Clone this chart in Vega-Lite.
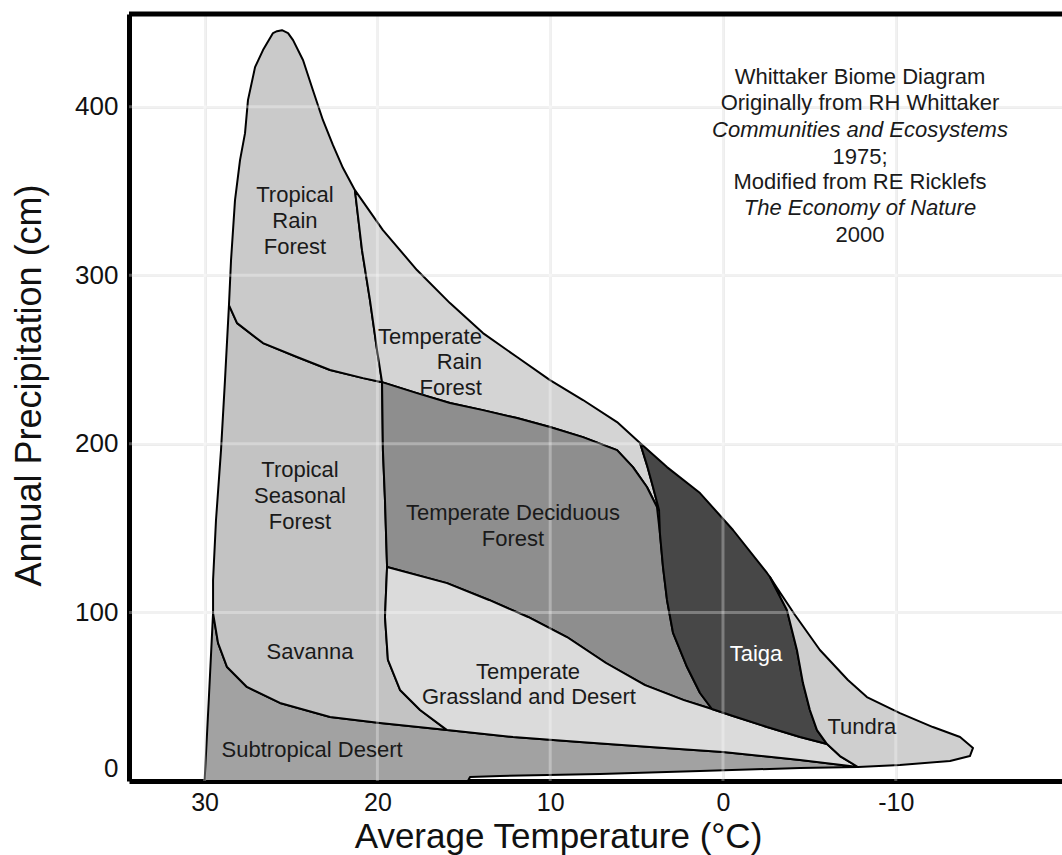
{
  "$schema": "https://vega.github.io/schema/vega-lite/v6.json",
  "width": 933,
  "height": 767,
  "autosize": "none",
  "padding": {"left": 129, "top": 14, "right": 0, "bottom": 74},
  "background": "white",
  "config": {
    "view": {"stroke": null},
    "axis": {
      "labelFont": "Liberation Sans",
      "titleFont": "Liberation Sans",
      "labelColor": "#111111",
      "titleColor": "#111111",
      "titleFontWeight": "normal",
      "domainColor": "black",
      "domainWidth": 5,
      "gridColor": "#ebebeb",
      "gridWidth": 3,
      "ticks": false
    },
    "text": {"font": "Liberation Sans", "fontSize": 22, "color": "#1a1a1a"}
  },
  "datasets": {
    "polys": [
      {"b":"desert","i":0,"T":30.0,"P":0},
      {"b":"desert","i":1,"T":29.75,"P":49.8},
      {"b":"desert","i":2,"T":29.51,"P":99.6},
      {"b":"desert","i":3,"T":29.22,"P":81.8},
      {"b":"desert","i":4,"T":28.70,"P":67.6},
      {"b":"desert","i":5,"T":27.55,"P":55.8},
      {"b":"desert","i":6,"T":25.64,"P":46.3},
      {"b":"desert","i":7,"T":22.74,"P":38.0},
      {"b":"desert","i":8,"T":19.85,"P":34.4},
      {"b":"desert","i":9,"T":15.97,"P":30.2},
      {"b":"desert","i":10,"T":12.15,"P":26.1},
      {"b":"desert","i":11,"T":8.28,"P":23.1},
      {"b":"desert","i":12,"T":4.22,"P":20.2},
      {"b":"desert","i":13,"T":0.0,"P":17.2},
      {"b":"desert","i":14,"T":-4.46,"P":12.5},
      {"b":"desert","i":15,"T":-7.81,"P":8.3},
      {"b":"desert","i":16,"T":-4.46,"P":7.7},
      {"b":"desert","i":17,"T":1.33,"P":5.9},
      {"b":"desert","i":18,"T":7.12,"P":4.2},
      {"b":"desert","i":19,"T":12.90,"P":3.0},
      {"b":"desert","i":20,"T":14.64,"P":2.4},
      {"b":"desert","i":21,"T":14.76,"P":0},
      {"b":"desert","i":22,"T":30.0,"P":0},

      {"b":"seasonal","i":0,"T":29.51,"P":99.6},
      {"b":"seasonal","i":1,"T":29.51,"P":119.2},
      {"b":"seasonal","i":2,"T":29.34,"P":154.8},
      {"b":"seasonal","i":3,"T":29.05,"P":196.3},
      {"b":"seasonal","i":4,"T":28.82,"P":237.8},
      {"b":"seasonal","i":5,"T":28.59,"P":282.3},
      {"b":"seasonal","i":6,"T":28.12,"P":271.6},
      {"b":"seasonal","i":7,"T":26.62,"P":259.8},
      {"b":"seasonal","i":8,"T":24.65,"P":251.5},
      {"b":"seasonal","i":9,"T":22.74,"P":243.8},
      {"b":"seasonal","i":10,"T":20.83,"P":239.0},
      {"b":"seasonal","i":11,"T":19.73,"P":236.6},
      {"b":"seasonal","i":12,"T":19.68,"P":196.3},
      {"b":"seasonal","i":13,"T":19.56,"P":166.7},
      {"b":"seasonal","i":14,"T":19.44,"P":126.9},
      {"b":"seasonal","i":15,"T":19.56,"P":97.3},
      {"b":"seasonal","i":16,"T":19.39,"P":71.8},
      {"b":"seasonal","i":17,"T":18.69,"P":54.0},
      {"b":"seasonal","i":18,"T":17.53,"P":42.1},
      {"b":"seasonal","i":19,"T":15.97,"P":30.2},
      {"b":"seasonal","i":20,"T":19.85,"P":34.4},
      {"b":"seasonal","i":21,"T":22.74,"P":38.0},
      {"b":"seasonal","i":22,"T":25.64,"P":46.3},
      {"b":"seasonal","i":23,"T":27.55,"P":55.8},
      {"b":"seasonal","i":24,"T":28.70,"P":67.6},
      {"b":"seasonal","i":25,"T":29.22,"P":81.8},
      {"b":"seasonal","i":26,"T":29.51,"P":99.6},

      {"b":"trf","i":0,"T":28.59,"P":282.3},
      {"b":"trf","i":1,"T":28.47,"P":309.0},
      {"b":"trf","i":2,"T":28.24,"P":344.6},
      {"b":"trf","i":3,"T":27.95,"P":368.3},
      {"b":"trf","i":4,"T":27.66,"P":384.3},
      {"b":"trf","i":5,"T":27.49,"P":403.9},
      {"b":"trf","i":6,"T":27.08,"P":423.5},
      {"b":"trf","i":7,"T":26.62,"P":433.6},
      {"b":"trf","i":8,"T":26.04,"P":443.7},
      {"b":"trf","i":9,"T":25.81,"P":444.8},
      {"b":"trf","i":10,"T":25.52,"P":445.4},
      {"b":"trf","i":11,"T":25.17,"P":443.7},
      {"b":"trf","i":12,"T":24.88,"P":439.5},
      {"b":"trf","i":13,"T":24.30,"P":427.6},
      {"b":"trf","i":14,"T":23.73,"P":409.8},
      {"b":"trf","i":15,"T":23.15,"P":392.0},
      {"b":"trf","i":16,"T":22.57,"P":377.2},
      {"b":"trf","i":17,"T":21.99,"P":363.6},
      {"b":"trf","i":18,"T":21.30,"P":350.5},
      {"b":"trf","i":19,"T":20.89,"P":314.9},
      {"b":"trf","i":20,"T":20.43,"P":285.3},
      {"b":"trf","i":21,"T":20.02,"P":255.6},
      {"b":"trf","i":22,"T":19.73,"P":236.6},
      {"b":"trf","i":23,"T":20.83,"P":239.0},
      {"b":"trf","i":24,"T":22.74,"P":243.8},
      {"b":"trf","i":25,"T":24.65,"P":251.5},
      {"b":"trf","i":26,"T":26.62,"P":259.8},
      {"b":"trf","i":27,"T":28.12,"P":271.6},
      {"b":"trf","i":28,"T":28.59,"P":282.3},

      {"b":"temprf","i":0,"T":21.30,"P":350.5},
      {"b":"temprf","i":1,"T":19.68,"P":326.8},
      {"b":"temprf","i":2,"T":17.71,"P":303.1},
      {"b":"temprf","i":3,"T":15.80,"P":283.5},
      {"b":"temprf","i":4,"T":13.89,"P":265.7},
      {"b":"temprf","i":5,"T":11.92,"P":251.5},
      {"b":"temprf","i":6,"T":10.01,"P":237.8},
      {"b":"temprf","i":7,"T":8.10,"P":226.0},
      {"b":"temprf","i":8,"T":6.13,"P":212.9},
      {"b":"temprf","i":9,"T":4.80,"P":200.5},
      {"b":"temprf","i":10,"T":4.40,"P":187.4},
      {"b":"temprf","i":11,"T":4.05,"P":174.4},
      {"b":"temprf","i":12,"T":3.70,"P":160.7},
      {"b":"temprf","i":13,"T":3.82,"P":162.5},
      {"b":"temprf","i":14,"T":4.40,"P":174.4},
      {"b":"temprf","i":15,"T":5.21,"P":186.2},
      {"b":"temprf","i":16,"T":6.13,"P":196.3},
      {"b":"temprf","i":17,"T":8.10,"P":204.0},
      {"b":"temprf","i":18,"T":10.01,"P":210.0},
      {"b":"temprf","i":19,"T":11.92,"P":215.3},
      {"b":"temprf","i":20,"T":13.89,"P":220.0},
      {"b":"temprf","i":21,"T":15.80,"P":224.2},
      {"b":"temprf","i":22,"T":17.71,"P":230.1},
      {"b":"temprf","i":23,"T":19.73,"P":236.6},
      {"b":"temprf","i":24,"T":20.02,"P":255.6},
      {"b":"temprf","i":25,"T":20.43,"P":285.3},
      {"b":"temprf","i":26,"T":20.89,"P":314.9},
      {"b":"temprf","i":27,"T":21.30,"P":350.5},

      {"b":"decid","i":0,"T":19.73,"P":236.6},
      {"b":"decid","i":1,"T":17.71,"P":230.1},
      {"b":"decid","i":2,"T":15.80,"P":224.2},
      {"b":"decid","i":3,"T":13.89,"P":220.0},
      {"b":"decid","i":4,"T":11.92,"P":215.3},
      {"b":"decid","i":5,"T":10.01,"P":210.0},
      {"b":"decid","i":6,"T":8.10,"P":204.0},
      {"b":"decid","i":7,"T":6.13,"P":196.3},
      {"b":"decid","i":8,"T":5.21,"P":186.2},
      {"b":"decid","i":9,"T":4.40,"P":174.4},
      {"b":"decid","i":10,"T":3.82,"P":162.5},
      {"b":"decid","i":11,"T":3.65,"P":147.1},
      {"b":"decid","i":12,"T":3.47,"P":126.9},
      {"b":"decid","i":13,"T":3.24,"P":107.4},
      {"b":"decid","i":14,"T":2.89,"P":87.8},
      {"b":"decid","i":15,"T":2.08,"P":67.6},
      {"b":"decid","i":16,"T":1.33,"P":52.2},
      {"b":"decid","i":17,"T":0.64,"P":42.7},
      {"b":"decid","i":18,"T":2.26,"P":48.0},
      {"b":"decid","i":19,"T":4.51,"P":56.9},
      {"b":"decid","i":20,"T":6.77,"P":70.0},
      {"b":"decid","i":21,"T":9.03,"P":85.4},
      {"b":"decid","i":22,"T":11.28,"P":97.3},
      {"b":"decid","i":23,"T":13.54,"P":107.4},
      {"b":"decid","i":24,"T":15.97,"P":117.4},
      {"b":"decid","i":25,"T":19.44,"P":126.9},
      {"b":"decid","i":26,"T":19.56,"P":166.7},
      {"b":"decid","i":27,"T":19.68,"P":196.3},
      {"b":"decid","i":28,"T":19.73,"P":236.6},

      {"b":"grass","i":0,"T":19.44,"P":126.9},
      {"b":"grass","i":1,"T":15.97,"P":117.4},
      {"b":"grass","i":2,"T":13.54,"P":107.4},
      {"b":"grass","i":3,"T":11.28,"P":97.3},
      {"b":"grass","i":4,"T":9.03,"P":85.4},
      {"b":"grass","i":5,"T":6.77,"P":70.0},
      {"b":"grass","i":6,"T":4.51,"P":56.9},
      {"b":"grass","i":7,"T":2.26,"P":48.0},
      {"b":"grass","i":8,"T":0.64,"P":42.7},
      {"b":"grass","i":9,"T":-0.58,"P":38.6},
      {"b":"grass","i":10,"T":-2.55,"P":32.0},
      {"b":"grass","i":11,"T":-4.46,"P":26.1},
      {"b":"grass","i":12,"T":-6.02,"P":21.9},
      {"b":"grass","i":13,"T":-6.77,"P":14.8},
      {"b":"grass","i":14,"T":-7.81,"P":8.3},
      {"b":"grass","i":15,"T":-4.46,"P":12.5},
      {"b":"grass","i":16,"T":0.0,"P":17.2},
      {"b":"grass","i":17,"T":4.22,"P":20.2},
      {"b":"grass","i":18,"T":8.28,"P":23.1},
      {"b":"grass","i":19,"T":12.15,"P":26.1},
      {"b":"grass","i":20,"T":15.97,"P":30.2},
      {"b":"grass","i":21,"T":17.53,"P":42.1},
      {"b":"grass","i":22,"T":18.69,"P":54.0},
      {"b":"grass","i":23,"T":19.39,"P":71.8},
      {"b":"grass","i":24,"T":19.56,"P":97.3},
      {"b":"grass","i":25,"T":19.44,"P":126.9},

      {"b":"taiga","i":0,"T":4.80,"P":200.5},
      {"b":"taiga","i":1,"T":3.24,"P":186.2},
      {"b":"taiga","i":2,"T":1.33,"P":170.8},
      {"b":"taiga","i":3,"T":-0.58,"P":148.9},
      {"b":"taiga","i":4,"T":-2.55,"P":123.4},
      {"b":"taiga","i":5,"T":-2.72,"P":121.0},
      {"b":"taiga","i":6,"T":-3.70,"P":101.4},
      {"b":"taiga","i":7,"T":-4.28,"P":77.7},
      {"b":"taiga","i":8,"T":-4.63,"P":58.1},
      {"b":"taiga","i":9,"T":-5.03,"P":42.1},
      {"b":"taiga","i":10,"T":-5.44,"P":30.2},
      {"b":"taiga","i":11,"T":-6.02,"P":21.9},
      {"b":"taiga","i":12,"T":-4.46,"P":26.1},
      {"b":"taiga","i":13,"T":-2.55,"P":32.0},
      {"b":"taiga","i":14,"T":-0.58,"P":38.6},
      {"b":"taiga","i":15,"T":0.64,"P":42.7},
      {"b":"taiga","i":16,"T":1.33,"P":52.2},
      {"b":"taiga","i":17,"T":2.08,"P":67.6},
      {"b":"taiga","i":18,"T":2.89,"P":87.8},
      {"b":"taiga","i":19,"T":3.24,"P":107.4},
      {"b":"taiga","i":20,"T":3.47,"P":126.9},
      {"b":"taiga","i":21,"T":3.65,"P":147.1},
      {"b":"taiga","i":22,"T":3.70,"P":160.7},
      {"b":"taiga","i":23,"T":4.05,"P":174.4},
      {"b":"taiga","i":24,"T":4.40,"P":187.4},
      {"b":"taiga","i":25,"T":4.80,"P":200.5},

      {"b":"tundra","i":0,"T":-2.72,"P":121.0},
      {"b":"tundra","i":1,"T":-3.13,"P":114.5},
      {"b":"tundra","i":2,"T":-4.17,"P":98.5},
      {"b":"tundra","i":3,"T":-5.61,"P":77.7},
      {"b":"tundra","i":4,"T":-7.23,"P":59.9},
      {"b":"tundra","i":5,"T":-8.33,"P":49.8},
      {"b":"tundra","i":6,"T":-10.24,"P":40.3},
      {"b":"tundra","i":7,"T":-12.15,"P":32.0},
      {"b":"tundra","i":8,"T":-13.72,"P":26.1},
      {"b":"tundra","i":9,"T":-14.47,"P":19.6},
      {"b":"tundra","i":10,"T":-14.29,"P":14.8},
      {"b":"tundra","i":11,"T":-13.14,"P":11.9},
      {"b":"tundra","i":12,"T":-10.24,"P":9.5},
      {"b":"tundra","i":13,"T":-7.81,"P":8.3},
      {"b":"tundra","i":14,"T":-6.77,"P":14.8},
      {"b":"tundra","i":15,"T":-6.02,"P":21.9},
      {"b":"tundra","i":16,"T":-5.44,"P":30.2},
      {"b":"tundra","i":17,"T":-5.03,"P":42.1},
      {"b":"tundra","i":18,"T":-4.63,"P":58.1},
      {"b":"tundra","i":19,"T":-4.28,"P":77.7},
      {"b":"tundra","i":20,"T":-3.70,"P":101.4},
      {"b":"tundra","i":21,"T":-2.72,"P":121.0}
    ],
    "gridx": [{"T":30},{"T":20},{"T":10},{"T":0},{"T":-10}],
    "gridy": [{"P":100},{"P":200},{"P":300},{"P":400}],
    "labels": [
      {"label":"Tropical","T":24.77,"P":347.6},
      {"label":"Rain","T":24.77,"P":332.1},
      {"label":"Forest","T":24.77,"P":316.7},
      {"label":"Tropical","T":24.48,"P":184.5},
      {"label":"Seasonal","T":24.48,"P":169.0},
      {"label":"Forest","T":24.48,"P":153.6},
      {"label":"Temperate Deciduous","T":12.15,"P":159.0},
      {"label":"Forest","T":12.15,"P":143.5},
      {"label":"Savanna","T":23.90,"P":76.5},
      {"label":"Temperate","T":11.28,"P":64.6},
      {"label":"Grassland and Desert","T":11.23,"P":49.8},
      {"label":"Subtropical Desert","T":23.78,"P":18.4},
      {"label":"Tundra","T":-8.04,"P":32.0}
    ],
    "rightlabels": [
      {"label":"Temperate","T":13.95,"P":263.3},
      {"label":"Rain","T":13.95,"P":248.5},
      {"label":"Forest","T":13.95,"P":233.1}
    ],
    "whitelabels": [
      {"label":"Taiga","T":-1.91,"P":75.3}
    ],
    "note": [
      {"label":"Whittaker Biome Diagram","T":-7.93,"P":417.6},
      {"label":"Originally from RH Whittaker","T":-7.93,"P":402.1},
      {"label":"1975;","T":-7.93,"P":370.1},
      {"label":"Modified from RE Ricklefs","T":-7.93,"P":355.3},
      {"label":"2000","T":-7.93,"P":323.8}
    ],
    "noteitalic": [
      {"label":"Communities and Ecosystems","T":-7.93,"P":386.1},
      {"label":"The Economy of Nature","T":-7.93,"P":339.9}
    ]
  },
  "layer": [
    {
      "data": {"name": "polys"},
      "mark": {"type": "line", "stroke": "black", "strokeWidth": 2, "strokeJoin": "round"},
      "encoding": {
        "x": {
          "field": "T", "type": "quantitative",
          "scale": {"domain": [34.375, -19.62], "nice": false, "zero": false},
          "axis": {
            "values": [30, 20, 10, 0, -10],
            "labelExpr": "'' + datum.value",
            "title": "Average Temperature (°C)",
            "labelPadding": 9,
            "labelFontSize": 25,
            "titleFontSize": 35,
            "titleX": 429,
            "titleY": 66,
            "titleBaseline": "alphabetic",
            "grid": true
          }
        },
        "y": {
          "field": "P", "type": "quantitative",
          "scale": {"domain": [0, 455], "nice": false, "zero": false},
          "axis": {
            "values": [0, 100, 200, 300, 400],
            "title": "Annual Precipitation (cm)",
            "labelPadding": 11,
            "labelFontSize": 26,
            "labelFlush": true,
            "titleFontSize": 36,
            "titleX": -89,
            "titleY": 371,
            "titleBaseline": "alphabetic",
            "grid": true
          }
        },
        "fill": {
          "field": "b", "type": "nominal", "legend": null,
          "scale": {
            "domain": ["desert", "seasonal", "trf", "temprf", "decid", "grass", "taiga", "tundra"],
            "range": ["#a2a2a2", "#c3c3c3", "#cacaca", "#d4d4d4", "#8e8e8e", "#dbdbdb", "#474747", "#cfcfcf"]
          }
        },
        "detail": {"field": "b", "type": "nominal"},
        "order": {"field": "i", "type": "quantitative"}
      }
    },
    {
      "data": {"name": "gridx"},
      "mark": {"type": "rule", "color": "white", "opacity": 0.3, "strokeWidth": 3},
      "encoding": {"x": {"field": "T", "type": "quantitative"}}
    },
    {
      "data": {"name": "gridy"},
      "mark": {"type": "rule", "color": "white", "opacity": 0.3, "strokeWidth": 3},
      "encoding": {"y": {"field": "P", "type": "quantitative"}}
    },
    {
      "data": {"name": "labels"},
      "mark": {"type": "text", "align": "center", "baseline": "middle"},
      "encoding": {
        "x": {"field": "T", "type": "quantitative"},
        "y": {"field": "P", "type": "quantitative"},
        "text": {"field": "label"}
      }
    },
    {
      "data": {"name": "rightlabels"},
      "mark": {"type": "text", "align": "right", "baseline": "middle"},
      "encoding": {
        "x": {"field": "T", "type": "quantitative"},
        "y": {"field": "P", "type": "quantitative"},
        "text": {"field": "label"}
      }
    },
    {
      "data": {"name": "whitelabels"},
      "mark": {"type": "text", "align": "center", "baseline": "middle", "color": "white"},
      "encoding": {
        "x": {"field": "T", "type": "quantitative"},
        "y": {"field": "P", "type": "quantitative"},
        "text": {"field": "label"}
      }
    },
    {
      "data": {"name": "note"},
      "mark": {"type": "text", "align": "center", "baseline": "middle"},
      "encoding": {
        "x": {"field": "T", "type": "quantitative"},
        "y": {"field": "P", "type": "quantitative"},
        "text": {"field": "label"}
      }
    },
    {
      "data": {"name": "noteitalic"},
      "mark": {"type": "text", "align": "center", "baseline": "middle", "fontStyle": "italic"},
      "encoding": {
        "x": {"field": "T", "type": "quantitative"},
        "y": {"field": "P", "type": "quantitative"},
        "text": {"field": "label"}
      }
    },
    {
      "data": {"values": [{}]},
      "mark": {"type": "rule", "color": "black", "strokeWidth": 5},
      "encoding": {"y": {"datum": 455}}
    }
  ]
}
